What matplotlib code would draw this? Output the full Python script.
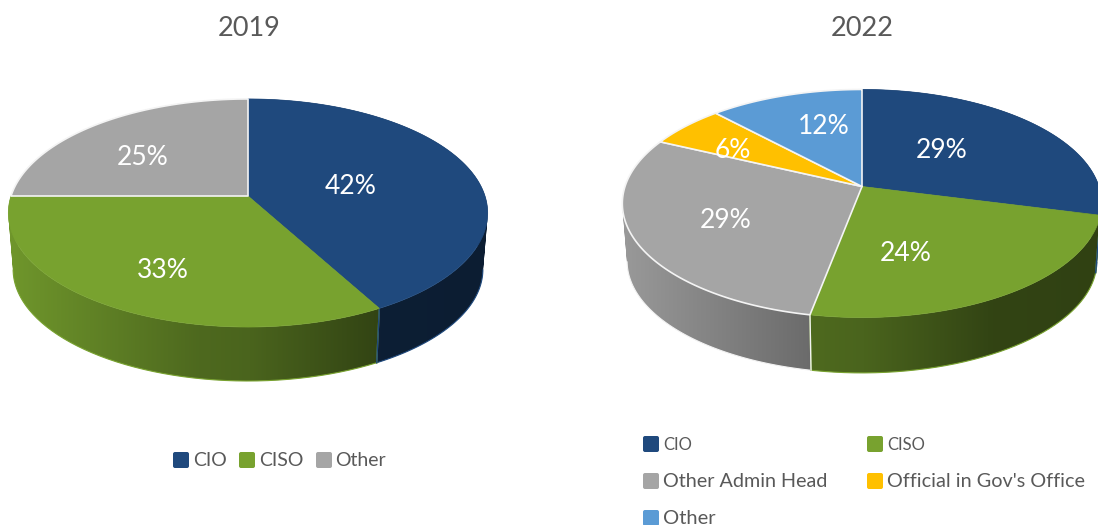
import numpy as np
import matplotlib
matplotlib.use("Agg")
import matplotlib.pyplot as plt
from matplotlib.colors import to_rgb
from matplotlib.patches import FancyBboxPatch, PathPatch, Polygon
from matplotlib.path import Path

plt.rcParams["font.family"] = ["Lato", "DejaVu Sans"]

# Survey shares, in percent
titles = ["2019", "2022"]
categories_2019 = ["CIO", "CISO", "Other"]
values_2019 = [42, 33, 25]
categories_2022 = ["CIO", "CISO", "Other Admin Head", "Official in Gov's Office", "Other"]
values_2022 = [29, 24, 29, 6, 12]

colors_2019 = ["#1f497d", "#78a22f", "#a5a5a5"]
colors_2022 = ["#1f497d", "#78a22f", "#a5a5a5", "#ffc000", "#5b9bd5"]
white_edge_2019 = [False, False, True]
white_edge_2022 = [False, False, True, True, True]

# Where each pie's apex sits, in pixel coordinates, and its data-label centres
apex_2019 = (248, 196)
apex_2022 = (862, 186.5)
label_xy_2019 = [(350.5, 186.5), (162.5, 270.5), (142.5, 157.5)]
label_xy_2022 = [(942, 150.5), (906, 253.5), (726, 220.5), (733, 150.5), (823.5, 126.5)]

# Projection of the unit disc onto the tilted pie
A, B, K = 237.0, 111.5, 0.149
WALL_SCALE = 0.98


def project(apex, theta, scale=1.0, drop=0.0):
    """Map clockwise-from-north angles on the disc to pixel coordinates."""
    X, Y = np.sin(theta), np.cos(theta)
    w = 1 + K * Y
    return apex[0] + scale * A * X / w, apex[1] + drop - scale * B * Y / w


def shade(offset):
    """Brightness of the side wall as a function of distance from the pie's centre."""
    return np.interp(offset, [-240, -52, 0, 130, 240], [0.93, 0.65, 0.62, 0.42, 0.40])


def wall_path(xt, yt, xb, yb):
    """Union of quads between the upper and lower rims, wound the same way."""
    verts, codes = [], []
    for i in range(len(xt) - 1):
        quad = [(xt[i], yt[i]), (xt[i + 1], yt[i + 1]), (xb[i + 1], yb[i + 1]), (xb[i], yb[i])]
        area = sum(quad[j][0] * quad[(j + 1) % 4][1] - quad[(j + 1) % 4][0] * quad[j][1]
                   for j in range(4))
        if area < 0:
            quad = quad[::-1]
        verts += quad + [quad[0]]
        codes += [Path.MOVETO, Path.LINETO, Path.LINETO, Path.LINETO, Path.CLOSEPOLY]
    return Path(verts, codes)


def draw_pie(ax, apex, values, colors, white_edge, label_xy, drop, size=19):
    fractions = np.cumsum([0] + list(values)) / sum(values) * 2 * np.pi
    spans = list(zip(fractions[:-1], fractions[1:]))

    # Side walls first, rearmost slice first, so nearer walls and the top surface overlap them
    depth = [np.cos((t0 + t1) / 2) for t0, t1 in spans]
    for i in sorted(range(len(values)), key=lambda n: -depth[n]):
        t0, t1 = spans[i]
        color, white = colors[i], white_edge[i]
        theta = np.linspace(t0, t1, 160)
        xt, yt = project(apex, theta)
        xb, yb = project(apex, theta, WALL_SCALE, drop)
        clip = PathPatch(wall_path(xt, yt, xb, yb), facecolor="none", edgecolor="none")
        ax.add_patch(clip)
        xs = np.linspace(apex[0] - 245, apex[0] + 245, 490)
        rgb = np.array(to_rgb(color))
        grad = shade(xs - apex[0])[None, :, None] * rgb[None, None, :]
        im = ax.imshow(grad, extent=(xs[0], xs[-1], apex[1] + 205, apex[1] - 110),
                       aspect="auto", interpolation="bilinear", zorder=2)
        im.set_clip_path(clip)
        edge = "#f2f2f2" if white else color
        # Outline only the front of the lower rim, past the silhouette's tangent points
        front = np.cos(theta) < -K
        if front.any():
            ax.plot(xb[front], yb[front], color=edge, lw=0.8, zorder=2.2)
        for t in (t0, t1):
            x0, y0 = project(apex, t)
            x1, y1 = project(apex, t, WALL_SCALE, drop)
            if y0 > apex[1] + 20:
                ax.plot([x0, x1], [y0, y1], color=edge, lw=1.0,
                        zorder=2.3 + 0.1 * white - 0.01 * i)

    # Top surface: white-edged slices go last so their outlines stay visible
    order = sorted(range(len(values)), key=lambda i: white_edge[i])
    for i in order:
        t0, t1 = spans[i]
        x, y = project(apex, np.linspace(t0, t1, 200))
        pts = np.column_stack([np.r_[apex[0], x], np.r_[apex[1], y]])
        ax.add_patch(Polygon(pts, closed=True, facecolor=colors[i],
                             edgecolor="#f4f4f4" if white_edge[i] else colors[i],
                             lw=1.2 if white_edge[i] else 0.5,
                             joinstyle="round", zorder=3 + 0.1 * white_edge[i]))

    for v, (lx, ly) in zip(values, label_xy):
        ax.text(lx, ly, f"{v}%", color="white", fontsize=size,
                ha="center", va="center", zorder=5)


def draw_legend(ax, entries):
    for (name, color, sx, sy, tx, fs) in entries:
        ax.add_patch(FancyBboxPatch((sx + 1.5, sy - 6.5), 13, 13,
                                    boxstyle="round,pad=1.5,rounding_size=2",
                                    facecolor=color, edgecolor="none", zorder=4))
        ax.text(tx, sy + 0.5, name, color="#595959", fontsize=fs,
                ha="left", va="center", zorder=4)


fig = plt.figure(figsize=(10.98, 5.25), dpi=100, facecolor="white")
ax = fig.add_axes([0, 0, 1, 1])

draw_pie(ax, apex_2019, values_2019, colors_2019, white_edge_2019, label_xy_2019, 56.6)
draw_pie(ax, apex_2022, values_2022, colors_2022, white_edge_2022, label_xy_2022, 58.0)

ax.text(249.5, 28.5, titles[0], color="#595959", fontsize=19.5, ha="center", va="center")
ax.text(862, 28.5, titles[1], color="#595959", fontsize=19.5, ha="center", va="center")

draw_legend(ax, [
    (categories_2019[0], colors_2019[0], 173, 460, 193, 14),
    (categories_2019[1], colors_2019[1], 239, 460, 259, 14),
    (categories_2019[2], colors_2019[2], 316, 460, 335.5, 14),
    (categories_2022[0], colors_2022[0], 643, 444, 663, 12),
    (categories_2022[1], colors_2022[1], 867, 444, 887, 12),
    (categories_2022[2], colors_2022[2], 643, 481, 663, 14.2),
    (categories_2022[3], colors_2022[3], 867, 481, 887, 14.3),
    (categories_2022[4], colors_2022[4], 643, 518, 663, 14.5),
])

ax.set_xlim(0, 1098)
ax.set_ylim(525, 0)
ax.axis("off")
fig.savefig("out.png", dpi=100, facecolor="white")
